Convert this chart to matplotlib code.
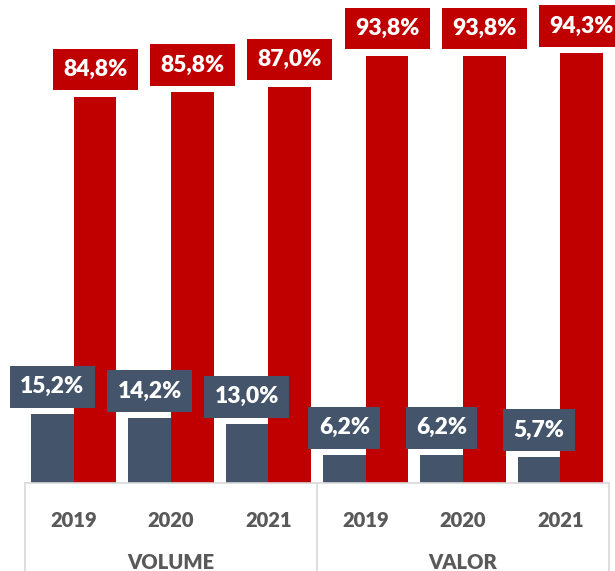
import matplotlib
matplotlib.use("Agg")
import matplotlib.pyplot as plt
import numpy as np
from matplotlib.transforms import blended_transform_factory

years = ["2019", "2020", "2021", "2019", "2020", "2021"]
groups = ["VOLUME", "VALOR"]
series_a = [15.2, 14.2, 13.0, 6.2, 6.2, 5.7]
series_b = [84.8, 85.8, 87.0, 93.8, 93.8, 94.3]

c_a = "#44546A"
c_b = "#C00000"
grid_c = "#D9D9D9"
txt_c = "#595959"
FONT = ["Lato", "DejaVu Sans"]

fig = plt.figure(figsize=(6.15, 5.71), dpi=100)
ax = fig.add_axes([25/615, 88/571, (609-25)/615, 483/571])

x = np.arange(len(years))
w = 0.44
ax.bar(x - w/2, series_a, w, color=c_a)
ax.bar(x + w/2, series_b, w, color=c_b)

ax.set_xlim(-0.5, len(years) - 0.5)
ax.set_ylim(0, 106)

for xi, va, vb in zip(x, series_a, series_b):
    for xx, v, col in ((xi - w/2, va, c_a), (xi + w/2, vb, c_b)):
        ax.annotate(f"{v:.1f}%".replace(".", ","), (xx, v), xytext=(0, 27),
                    textcoords="offset pixels",
                    ha="center", va="center", color="white", fontsize=16.5,
                    fontweight="heavy", family=FONT,
                    bbox=dict(boxstyle="square,pad=0.45", fc=col, ec="none"))

for s in ["top", "right", "left"]:
    ax.spines[s].set_visible(False)
ax.spines["bottom"].set_color(grid_c)
ax.spines["bottom"].set_linewidth(1.2)
ax.set_yticks([])
ax.set_xticks(x)
ax.set_xticklabels(years, fontsize=14.5, fontweight="heavy", color=txt_c, family=FONT)
ax.tick_params(axis="x", length=0, pad=20)

tr = blended_transform_factory(ax.transData, ax.transAxes)
for xb in [-0.5, 2.5, 5.5]:
    ax.plot([xb, xb], [0, -0.19], transform=tr, color=grid_c, lw=1.2, clip_on=False)
for gi, g in enumerate(groups):
    ax.text(gi * 3 + 1, -0.165, g, transform=tr, ha="center", va="center",
            fontsize=14.5, fontweight="heavy", color=txt_c, family=FONT)

fig.savefig("out.png", dpi=100)
